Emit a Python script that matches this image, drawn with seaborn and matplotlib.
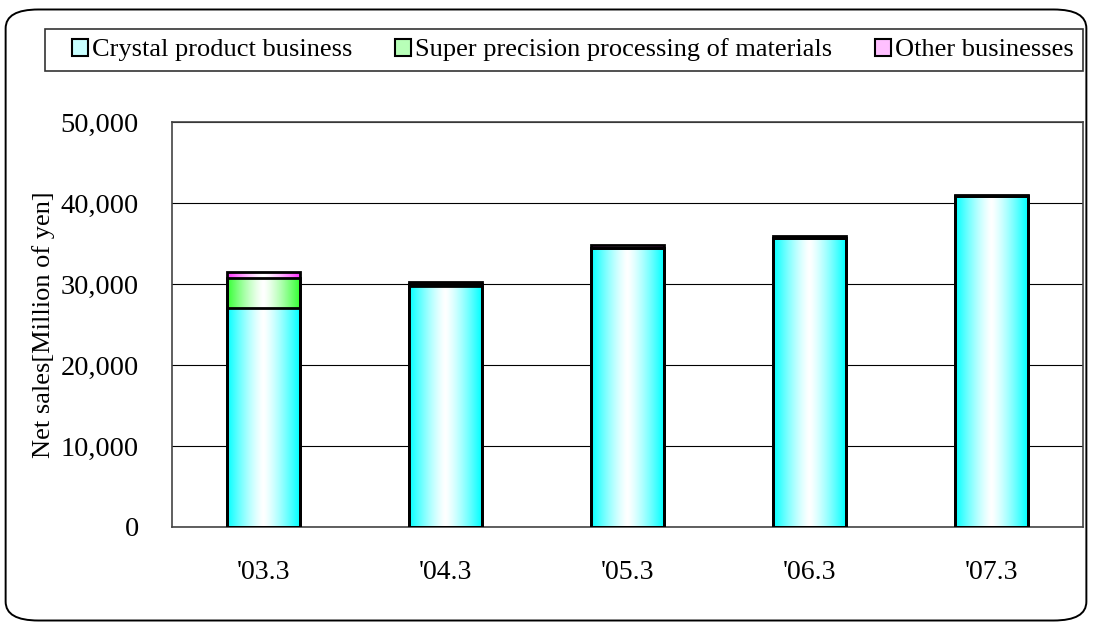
import numpy as np
import pandas as pd
import matplotlib
matplotlib.use('Agg')
import matplotlib.pyplot as plt
import seaborn as sns
from matplotlib.patches import FancyBboxPatch, Patch, Rectangle
from matplotlib.ticker import FuncFormatter

# data (million yen)
years = ["'03.3", "'04.3", "'05.3", "'06.3", "'07.3"]
crystal = [27000, 29800, 34500, 35700, 40900]
precision = [3700, 150, 0, 0, 0]
other = [750, 250, 300, 200, 100]
series_names = ['Crystal product business', 'Super precision processing of materials', 'Other businesses']
edge_colors = ['#00FFFF', '#33FF33', '#FF33FF']
legend_colors = ['#C8FFFF', '#B8FFB8', '#FFC0FF']

sns.set_theme(style='white')
plt.rcParams['font.family'] = ['Liberation Serif', 'DejaVu Serif']
plt.rcParams['text.color'] = 'black'
plt.rcParams['axes.labelcolor'] = 'black'
plt.rcParams['xtick.color'] = 'black'
plt.rcParams['ytick.color'] = 'black'

df = pd.DataFrame({'year': years, 'crystal': crystal, 'precision': precision, 'other': other})
df['lvl1'] = df['crystal']
df['lvl2'] = df['crystal'] + df['precision']
df['lvl3'] = df['lvl2'] + df['other']

W, H = 1093, 628
fig = plt.figure(figsize=(W / 100, H / 100), dpi=100)
ax = fig.add_axes([172 / W, 1 - 527 / H, (1083 - 172) / W, (527 - 122) / H])

# draw stacked bars top-down so lower layers overlay higher ones
layers = [('lvl3', 2), ('lvl2', 1), ('lvl1', 0)]
for col, ci in layers:
    n_before = len(ax.patches)
    sns.barplot(data=df, x='year', y=col, color=edge_colors[ci], width=0.4,
                edgecolor='black', linewidth=2, ax=ax, zorder=3, saturation=1)
    for p in ax.patches[n_before:]:
        p.set_facecolor('none')
        x0, y0 = p.get_x(), p.get_y()
        w, h = p.get_width(), p.get_height()
        if h <= 0:
            continue
        # horizontal gradient: coloured edges, white centre
        t = np.linspace(-1, 1, 256)
        mix = np.abs(t) ** 1.3
        base = np.array(matplotlib.colors.to_rgb(edge_colors[ci]))
        rgb = (1 - mix)[:, None] * np.ones(3) + mix[:, None] * base
        img = rgb[None, :, :]
        im = ax.imshow(img, extent=[x0, x0 + w, y0, y0 + h], aspect='auto',
                       zorder=p.get_zorder() - 0.1 + len(ax.images) * 0.001)
        im.set_clip_path(p)
        p.set_zorder(im.get_zorder() + 0.01)

ax.set_xlim(-0.5, 4.5)
ax.set_ylim(0, 50000)
ax.set_yticks(np.arange(0, 50001, 10000))
ax.yaxis.set_major_formatter(FuncFormatter(lambda v, _: f'{int(v):,}'))
ax.grid(axis='y', color='black', linewidth=0.8, zorder=0)
ax.set_axisbelow(True)
for s in ax.spines.values():
    s.set_color('#444444')
    s.set_linewidth(1.2)
ax.tick_params(axis='y', labelsize=20.5, length=0, pad=24)
ax.tick_params(axis='x', labelsize=20, length=0, pad=24)
ax.set_xlabel('')
ax.set_ylabel('Net sales[Million of yen]', fontsize=19, labelpad=4)

# legend (frame drawn separately so the items keep their inner padding)
handles = [Patch(facecolor=c, edgecolor='black', linewidth=1.5) for c in legend_colors]
leg = fig.legend(handles, series_names, loc='center', ncol=3, mode='expand',
                 bbox_to_anchor=(72 / W, 1 - 70 / H, (1074 - 72) / W, 40 / H),
                 bbox_transform=fig.transFigure, fontsize=19, frameon=False,
                 handlelength=0.6, handleheight=0.6, handletextpad=0.15,
                 columnspacing=1.4, borderpad=0.0, borderaxespad=0)
fig.patches.append(Rectangle((45 / W, 1 - 71 / H), (1083 - 45) / W, 42 / H,
                             transform=fig.transFigure, fill=False,
                             edgecolor='#333333', linewidth=1.2))

# outer rounded frame
frame = FancyBboxPatch((10 / W, 10 / H), 1072 / W, 606 / H,
                       boxstyle='round,pad=0.004,rounding_size=0.03',
                       transform=fig.transFigure, fill=False, edgecolor='black',
                       linewidth=1.4, zorder=-1)
fig.patches.append(frame)

fig.savefig('out.png', dpi=100)
